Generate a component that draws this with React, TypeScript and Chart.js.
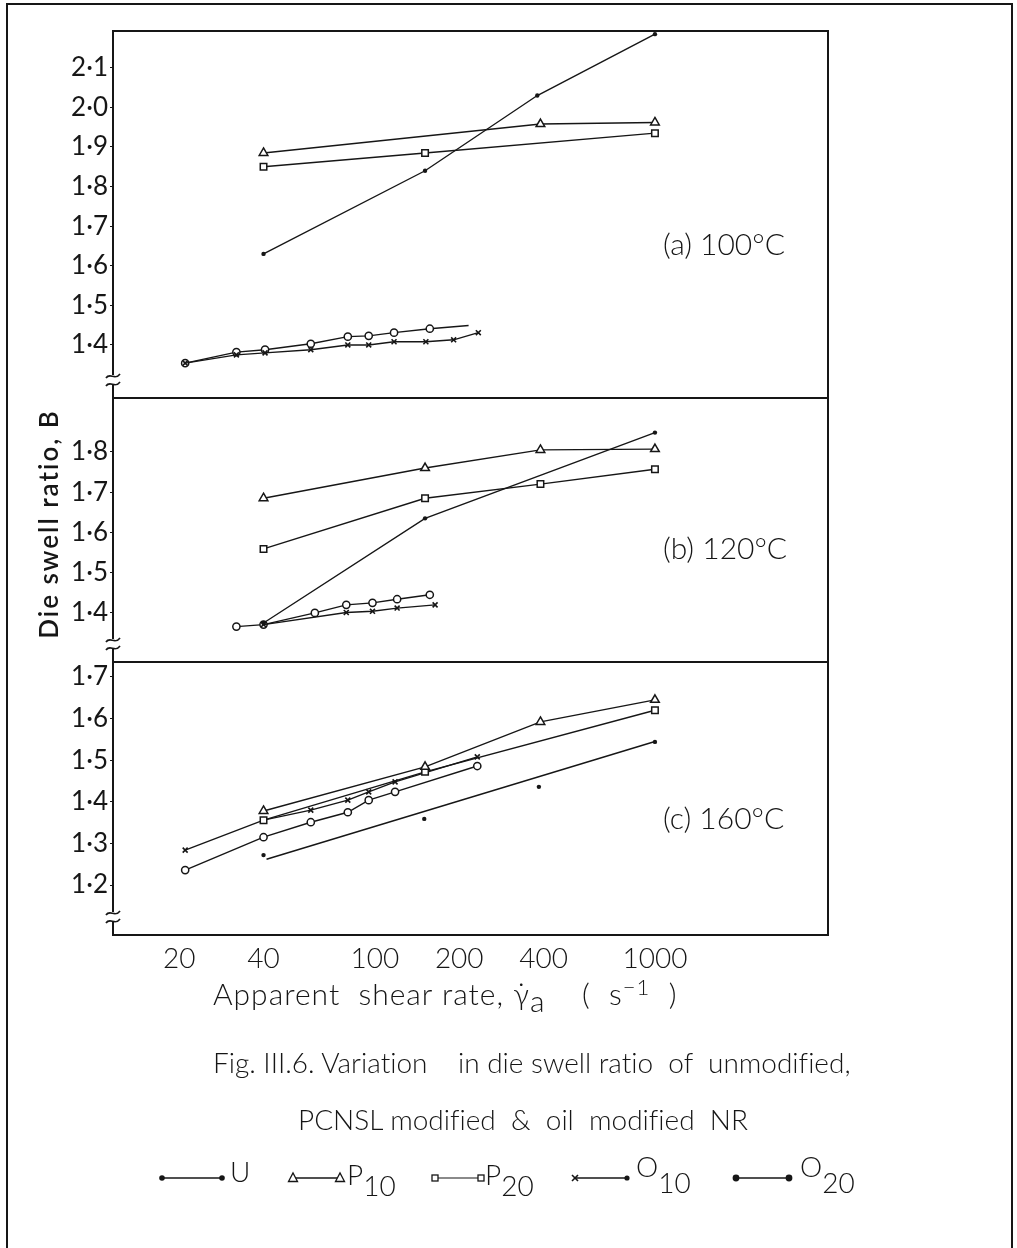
import React, { useEffect, useRef } from 'react';
import { Chart, registerables } from 'chart.js';

Chart.register(...registerables);

const INK = '#161616';

// Shared shear-rate axis (s^-1) and swell-ratio tick labels per panel
const shearRateTicks = [20, 40, 100, 200, 400, 1000];
const swellTicksA = [1.4, 1.5, 1.6, 1.7, 1.8, 1.9, 2.0, 2.1];
const swellTicksB = [1.4, 1.5, 1.6, 1.7, 1.8];
const swellTicksC = [1.2, 1.3, 1.4, 1.5, 1.6, 1.7];

const panelTitles = ['(a) 100°C', '(b) 120°C', '(c) 160°C'];

// (a) 100 °C
const rateA_U = [40, 151, 380, 1000];
const swellA_U = [1.63, 1.84, 2.03, 2.185];
const rateA_P10 = [40, 390, 1000];
const swellA_P10 = [1.885, 1.958, 1.962];
const rateA_P20 = [40, 151, 1000];
const swellA_P20 = [1.85, 1.885, 1.935];
const rateA_O10 = [21, 32, 40.5, 59, 80, 95, 117, 152, 191, 234];
const swellA_O10 = [1.354, 1.375, 1.38, 1.388, 1.4, 1.4, 1.408, 1.408, 1.413, 1.431];
const rateA_O20 = [21, 32, 40.5, 59, 80, 95, 117, 157];
const swellA_O20 = [1.354, 1.382, 1.388, 1.403, 1.421, 1.423, 1.431, 1.441];
const rateA_O20trend = [157, 216];
const swellA_O20trend = [1.441, 1.449];

// (b) 120 °C
const rateB_U = [40, 151, 1000];
const swellB_U = [1.375, 1.635, 1.848];
const rateB_P10 = [40, 151, 390, 1000];
const swellB_P10 = [1.685, 1.76, 1.805, 1.807];
const rateB_P20 = [40, 151, 390, 1000];
const swellB_P20 = [1.559, 1.685, 1.72, 1.757];
const rateB_O10 = [40, 79, 98, 120, 164];
const swellB_O10 = [1.371, 1.401, 1.404, 1.412, 1.42];
const rateB_O20 = [32, 40, 61, 79, 98, 120, 157];
const swellB_O20 = [1.366, 1.371, 1.4, 1.42, 1.425, 1.434, 1.445];

// (c) 160 °C
const rateC_U = [40, 150, 385, 1000];
const swellC_U = [1.272, 1.359, 1.436, 1.544];
const rateC_Ufit = [41, 1000];
const swellC_Ufit = [1.262, 1.545];
const rateC_P10 = [40, 151, 390, 1000];
const swellC_P10 = [1.378, 1.484, 1.592, 1.645];
const rateC_P20 = [40, 151, 1000];
const swellC_P20 = [1.356, 1.472, 1.62];
const rateC_O10 = [21, 40, 59, 80, 95, 118, 232];
const swellC_O10 = [1.284, 1.356, 1.38, 1.404, 1.424, 1.448, 1.508];
const rateC_O20 = [21, 40, 59, 80, 95, 118, 232];
const swellC_O20 = [1.236, 1.315, 1.351, 1.375, 1.404, 1.424, 1.486];

const MARKERS: Record<string, any> = {
  U: { pointStyle: 'circle', pointRadius: 2.2, pointBackgroundColor: INK, pointBorderWidth: 0 },
  P10: { pointStyle: 'triangle', pointRadius: 5, pointBackgroundColor: '#fff', pointBorderWidth: 1.5 },
  P20: { pointStyle: 'rect', pointRadius: 4.6, pointBackgroundColor: '#fff', pointBorderWidth: 1.5 },
  O10: { pointStyle: 'crossRot', pointRadius: 3.5, pointBorderWidth: 1.6 },
  O20: { pointStyle: 'circle', pointRadius: 3.6, pointBackgroundColor: '#fff', pointBorderWidth: 1.5 },
  none: { pointRadius: 0 },
};

function series(label: string, xs: number[], ys: number[], axis: string, marker: string) {
  return {
    label,
    data: xs.map((x, i) => ({ x, y: ys[i] })),
    yAxisID: axis,
    showLine: true,
    borderColor: INK,
    borderWidth: 1.4,
    pointBorderColor: INK,
    pointHoverRadius: 0,
    ...MARKERS[marker],
  };
}

function swellAxis(ticks: number[], min: number, max: number, weight: number) {
  return {
    type: 'linear',
    position: 'left',
    stack: 'panels',
    stackWeight: weight,
    min,
    max,
    afterBuildTicks: (s: any) => {
      s.ticks = ticks.map((v) => ({ value: v }));
    },
    afterFit: (s: any) => {
      s.width = 113;
    },
    ticks: {
      callback: (v: any) => Number(v).toFixed(1).replace('.', '·'),
      font: { family: 'Lato', size: 26, weight: 400 },
      color: INK,
      padding: 2,
      autoSkip: false,
    },
    grid: { drawOnChartArea: false, drawTicks: true, tickLength: 3, color: INK, lineWidth: 1 },
    border: { display: true, color: INK, width: 2 },
  };
}

function drawBreak(ctx: CanvasRenderingContext2D, x: number, y: number) {
  ctx.save();
  ctx.fillStyle = '#fff';
  ctx.fillRect(x - 3, y - 5, 6, 10);
  ctx.strokeStyle = INK;
  ctx.lineWidth = 1.7;
  for (const dy of [-4, 4]) {
    ctx.beginPath();
    ctx.moveTo(x - 7, y + dy + 2);
    ctx.bezierCurveTo(x - 3, y + dy - 4, x + 2, y + dy + 5, x + 7, y + dy - 2);
    ctx.stroke();
  }
  ctx.restore();
}

const panelFrame = {
  id: 'panelFrame',
  afterDraw(chart: any) {
    const { ctx, chartArea } = chart;
    const { left, right, top, bottom } = chartArea;
    const panels = [chart.scales.yA, chart.scales.yB, chart.scales.yC];
    ctx.save();
    ctx.strokeStyle = INK;
    ctx.lineWidth = 2;
    ctx.beginPath();
    ctx.moveTo(left, top);
    ctx.lineTo(right, top);
    ctx.lineTo(right, bottom);
    ctx.moveTo(left, panels[0].bottom);
    ctx.lineTo(right, panels[0].bottom);
    ctx.moveTo(left, panels[1].bottom);
    ctx.lineTo(right, panels[1].bottom);
    ctx.stroke();

    ctx.fillStyle = INK;
    ctx.font = '300 30px Lato';
    ctx.textAlign = 'left';
    ctx.textBaseline = 'alphabetic';
    panels.forEach((s: any, i: number) => {
      ctx.fillText(panelTitles[i], right - 165, s.top + (s.bottom - s.top) * 0.61);
      drawBreak(ctx, left, s.bottom - 18);
    });
    ctx.restore();
  },
};

function DieSwellChart() {
  const ref = useRef<HTMLCanvasElement | null>(null);

  useEffect(() => {
    if (!ref.current) return;
    const chart = new Chart(ref.current, {
      type: 'scatter',
      data: {
        datasets: [
          series('U', rateA_U, swellA_U, 'yA', 'U'),
          series('P10', rateA_P10, swellA_P10, 'yA', 'P10'),
          series('P20', rateA_P20, swellA_P20, 'yA', 'P20'),
          series('O10', rateA_O10, swellA_O10, 'yA', 'O10'),
          series('O20', rateA_O20, swellA_O20, 'yA', 'O20'),
          series('O20 trend', rateA_O20trend, swellA_O20trend, 'yA', 'none'),

          series('U', rateB_U, swellB_U, 'yB', 'U'),
          series('P10', rateB_P10, swellB_P10, 'yB', 'P10'),
          series('P20', rateB_P20, swellB_P20, 'yB', 'P20'),
          series('O10', rateB_O10, swellB_O10, 'yB', 'O10'),
          series('O20', rateB_O20, swellB_O20, 'yB', 'O20'),

          { ...series('U', rateC_U, swellC_U, 'yC', 'U'), showLine: false },
          series('U fit', rateC_Ufit, swellC_Ufit, 'yC', 'none'),
          series('P10', rateC_P10, swellC_P10, 'yC', 'P10'),
          series('P20', rateC_P20, swellC_P20, 'yC', 'P20'),
          series('O10', rateC_O10, swellC_O10, 'yC', 'O10'),
          series('O20', rateC_O20, swellC_O20, 'yC', 'O20'),
        ] as any,
      },
      options: {
        animation: false,
        responsive: false,
        devicePixelRatio: 1,
        events: [],
        layout: { padding: { left: 0, top: 31, right: 189, bottom: 268 } },
        plugins: { legend: { display: false }, tooltip: { enabled: false }, title: { display: false } },
        scales: {
          x: {
            type: 'logarithmic',
            position: 'bottom',
            min: 11.6,
            max: 4150,
            afterBuildTicks: (s: any) => {
              s.ticks = shearRateTicks.map((v) => ({ value: v }));
            },
            afterFit: (s: any) => {
              s.height = 45;
            },
            ticks: {
              callback: (v: any) => String(v),
              font: { family: 'Lato', size: 28, weight: 300 },
              color: INK,
              padding: 7,
              maxRotation: 0,
              autoSkip: false,
            },
            grid: { drawOnChartArea: false, drawTicks: false },
            border: { display: true, color: INK, width: 2 },
          },
          yC: swellAxis(swellTicksC, 1.08, 1.736, 273),
          yB: swellAxis(swellTicksB, 1.278, 1.934, 264),
          yA: swellAxis(swellTicksA, 1.266, 2.193, 367),
        } as any,
      },
      plugins: [panelFrame],
    });
    return () => chart.destroy();
  }, []);

  return <canvas ref={ref} width={1017} height={1248} style={{ position: 'absolute', left: 0, top: 0 }} />;
}

const text = (extra: React.CSSProperties): React.CSSProperties => ({
  position: 'absolute',
  whiteSpace: 'pre',
  lineHeight: 1,
  fontFamily: 'Lato, sans-serif',
  fontWeight: 300,
  fontSize: 28,
  fontVariantLigatures: 'none',
  color: INK,
  ...extra,
});

function LegendGlyphs() {
  const y = 18;
  const tri = (cx: number) => `${cx - 4.5},${y + 3.5} ${cx + 4.5},${y + 3.5} ${cx},${y - 5}`;
  const stroke = { stroke: INK, strokeWidth: 1.6 };
  return (
    <svg width={1017} height={40} style={{ position: 'absolute', left: 0, top: 1160 }}>
      <line x1={162} y1={y} x2={222} y2={y} {...stroke} />
      <circle cx={162} cy={y} r={2.8} fill={INK} />
      <circle cx={222} cy={y} r={2.8} fill={INK} />

      <line x1={293} y1={y} x2={340} y2={y} {...stroke} />
      <polygon points={tri(293)} fill="#fff" {...stroke} strokeWidth={1.3} />
      <polygon points={tri(340)} fill="#fff" {...stroke} strokeWidth={1.3} />

      <line x1={435} y1={y} x2={481} y2={y} {...stroke} strokeWidth={1.2} />
      <rect x={432} y={y - 3} width={6} height={6} fill="#fff" {...stroke} strokeWidth={1.3} />
      <rect x={478} y={y - 3} width={6} height={6} fill="#fff" {...stroke} strokeWidth={1.3} />

      <line x1={575} y1={y} x2={627} y2={y} {...stroke} />
      <line x1={572} y1={y - 3} x2={578} y2={y + 3} {...stroke} />
      <line x1={572} y1={y + 3} x2={578} y2={y - 3} {...stroke} />
      <circle cx={627} cy={y} r={2.6} fill={INK} />

      <line x1={736} y1={y} x2={789} y2={y} {...stroke} />
      <circle cx={736} cy={y} r={3.4} fill={INK} />
      <circle cx={789} cy={y} r={3.4} fill={INK} />
    </svg>
  );
}

export default function App() {
  return (
    <div
      style={{
        position: 'absolute',
        left: 0,
        top: 0,
        width: 1017,
        height: 1248,
        overflow: 'hidden',
        background: '#fff',
      }}
    >
      <DieSwellChart />
      <div
        style={{
          position: 'absolute',
          left: 6,
          top: 3,
          width: 1003,
          height: 1300,
          borderLeft: `2px solid ${INK}`,
          borderTop: `2px solid ${INK}`,
          borderRight: `2px solid ${INK}`,
        }}
      />
      <div
        style={text({
          left: 48,
          top: 524,
          fontSize: 26,
          fontWeight: 600,
          letterSpacing: 2,
          transform: 'translate(-50%, -50%) rotate(-90deg)',
        })}
      >
        Die swell ratio, B
      </div>
      <div style={text({ left: 213, top: 978, fontSize: 30, letterSpacing: 1 })}>
        {'Apparent  shear rate, γ̇'}
        <span style={{ position: 'relative', top: 7 }}>a</span>
        {'    (  s'}
        <span style={{ position: 'relative', top: -10, fontSize: 22 }}>−1</span>
        {'  )'}
      </div>
      <div style={text({ left: 213, top: 1048, fontSize: 28 })}>
        {'Fig. III.6. Variation    in die swell ratio  of  unmodified,'}
      </div>
      <div style={text({ left: 298, top: 1105, fontSize: 28 })}>{'PCNSL modified  &  oil  modified  NR'}</div>
      <LegendGlyphs />
      <div style={text({ left: 230, top: 1157 })}>U</div>
      <div style={text({ left: 347, top: 1160 })}>
        P<span style={{ position: 'relative', top: 11 }}>10</span>
      </div>
      <div style={text({ left: 485, top: 1160 })}>
        P<span style={{ position: 'relative', top: 11 }}>20</span>
      </div>
      <div style={text({ left: 636, top: 1152 })}>
        O<span style={{ position: 'relative', top: 16 }}>10</span>
      </div>
      <div style={text({ left: 800, top: 1152 })}>
        O<span style={{ position: 'relative', top: 16 }}>20</span>
      </div>
    </div>
  );
}
